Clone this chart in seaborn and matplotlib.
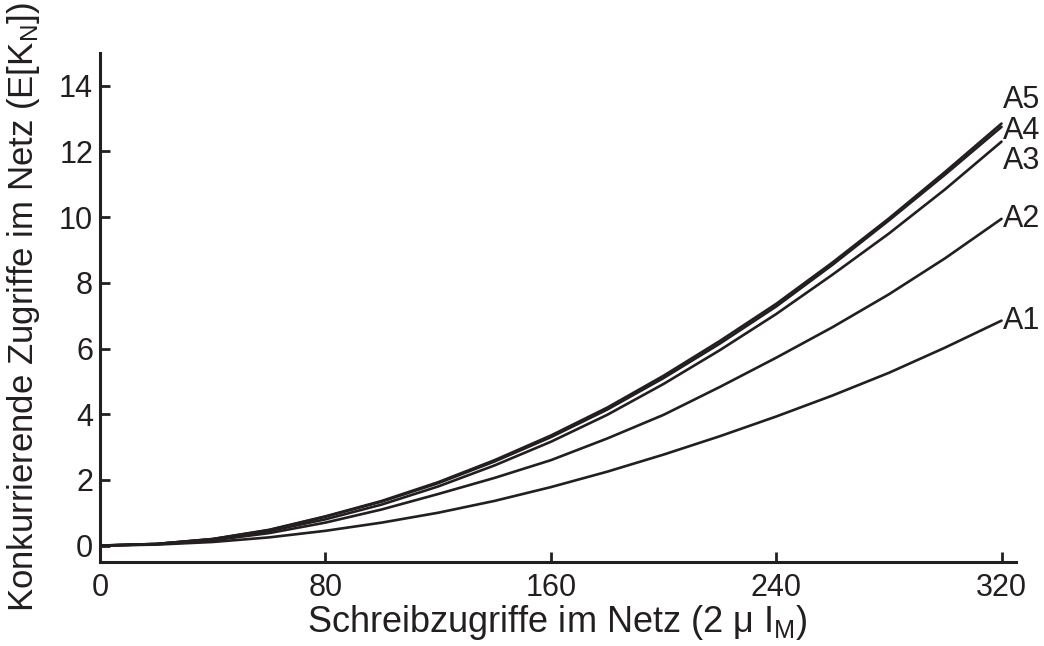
import numpy as np
import pandas as pd
import matplotlib
matplotlib.use('Agg')
import matplotlib.pyplot as plt
import seaborn as sns

# values
x = [0, 20, 40, 60, 80, 100, 120, 140, 160, 180, 200, 220, 240, 260, 280, 300, 320]
a1 = [0, 0.03, 0.11, 0.25, 0.45, 0.70, 1.00, 1.36, 1.78, 2.25, 2.77, 3.33, 3.93, 4.57, 5.26, 6.03, 6.85]
a2 = [0, 0.04, 0.16, 0.38, 0.70, 1.10, 1.57, 2.06, 2.60, 3.26, 3.98, 4.83, 5.72, 6.65, 7.65, 8.75, 9.95]
a3 = [0, 0.05, 0.19, 0.44, 0.80, 1.25, 1.80, 2.44, 3.16, 3.98, 4.92, 5.95, 7.05, 8.25, 9.50, 10.85, 12.30]
a4 = [0, 0.05, 0.20, 0.47, 0.88, 1.34, 1.90, 2.56, 3.30, 4.14, 5.10, 6.15, 7.28, 8.55, 9.90, 11.30, 12.75]
a5 = [0, 0.05, 0.20, 0.48, 0.89, 1.36, 1.93, 2.60, 3.35, 4.20, 5.17, 6.23, 7.36, 8.62, 9.96, 11.38, 12.85]
names = ['A1', 'A2', 'A3', 'A4', 'A5']
label_dy = {'A1': 0, 'A2': 0, 'A3': -14, 'A4': -3, 'A5': 17}  # points

x_ticks = [0, 80, 160, 240, 320]
y_ticks = [0, 2, 4, 6, 8, 10, 12, 14]

df = pd.DataFrame({'x': x * 5,
                   'y': a1 + a2 + a3 + a4 + a5,
                   'serie': sum([[n] * len(x) for n in names], [])})

sns.set_style('ticks')
plt.rcParams['font.family'] = ['Liberation Sans', 'DejaVu Sans']
plt.rcParams['mathtext.fontset'] = 'custom'
plt.rcParams['mathtext.rm'] = 'Liberation Sans'
plt.rcParams['mathtext.it'] = 'Liberation Sans'

fig = plt.figure(figsize=(10.44, 6.46), dpi=100)
ax = fig.add_axes([0.0958, 0.130, 0.877, 0.788])

for n in names:
    sub = df[df['serie'] == n]
    sns.lineplot(data=sub, x='x', y='y', color='#231f20', lw=1.9, ax=ax)
    ax.annotate(n, xy=(sub['x'].iloc[-1], sub['y'].iloc[-1]), xytext=(1, label_dy[n]),
                textcoords='offset points', ha='left', va='center', fontsize=22, color='#231f20')

ax.set_xlim(0, 325)
ax.set_ylim(-0.5, 15)
ax.set_xticks(x_ticks)
ax.set_yticks(y_ticks)
ax.tick_params(direction='in', length=7, width=2, labelsize=22, colors='#231f20')
ax.tick_params(axis='x', pad=8)
ax.tick_params(axis='y', pad=5)
for s in ['top', 'right']:
    ax.spines[s].set_visible(False)
for s in ['left', 'bottom']:
    ax.spines[s].set_linewidth(2.2)
    ax.spines[s].set_color('#231f20')

ax.set_xlabel(r'Schreibzugriffe im Netz (2 $\mu$ I$_\mathrm{M}$)', fontsize=26, color='#231f20', labelpad=0)
ax.set_ylabel(r'Konkurrierende Zugriffe im Netz (E[K$_\mathrm{N}$])', fontsize=25, color='#231f20', labelpad=12)

fig.savefig('out.png', dpi=100)
